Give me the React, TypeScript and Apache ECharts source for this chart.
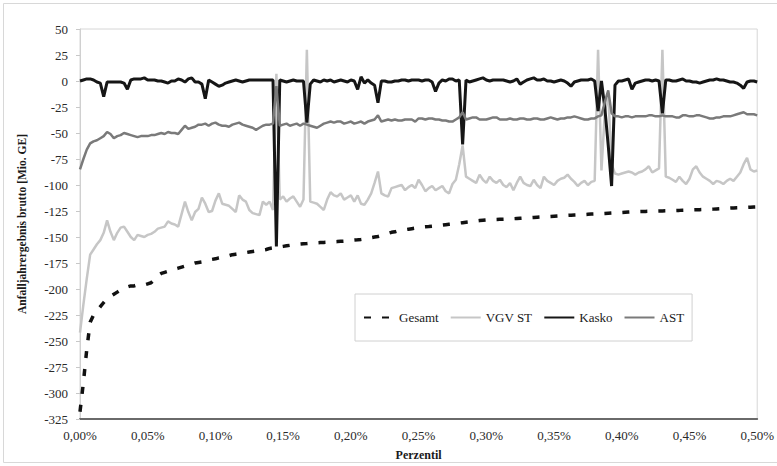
import React, { useEffect, useRef } from "react";
import * as echarts from "echarts";

// Percentile grid: 0,00% .. 0,50% in steps of 0,0025%
const percentiles: number[] = Array.from({ length: 201 }, (_, i) => i * 0.0025);

const xTicks = ["0,00%", "0,05%", "0,10%", "0,15%", "0,20%", "0,25%", "0,30%", "0,35%", "0,40%", "0,45%", "0,50%"];

const gesamt = [
  -318, -290, -258, -232, -225, -221, -217, -213, -209, -207,
  -205, -203, -201, -199, -198, -197, -197, -196, -196, -196,
  -195, -194, -191, -187, -185, -184, -183, -182, -181, -180,
  -179, -178, -177, -176, -175, -174.5, -174, -173, -172, -171.5,
  -171, -170, -169.5, -168.5, -168, -167, -166.5, -166, -165, -165,
  -164.5, -164, -163.5, -163, -162.5, -162, -161, -160.5, -160, -159.5,
  -159, -158.5, -158, -157.5, -157, -156.8, -156.5, -156.3, -156, -155.8,
  -155.6, -155.4, -155.2, -155, -154.8, -154.6, -154.4, -154.2, -154, -153.6,
  -153.2, -153, -152.7, -152.3, -151.8, -151.2, -150.6, -150, -149.5, -148.5,
  -147.5, -146.5, -145.5, -145, -144, -143.5, -143, -142.5, -142, -141.5,
  -141, -140.5, -140.2, -140, -139.7, -139.4, -139, -138.6, -138.2, -137.8,
  -137.5, -137, -136.6, -136.2, -135.8, -135.4, -135, -134.6, -134.2, -133.9,
  -133.6, -133.4, -133.2, -133.1, -133, -132.9, -132.8, -132.6, -132.4, -132.2,
  -132, -131.8, -131.6, -131.4, -131.2, -131, -130.8, -130.6, -130.4, -130.2,
  -130, -129.8, -129.6, -129.4, -129.2, -129, -128.9, -128.8, -128.6, -128.4,
  -128.2, -128, -127.9, -127.8, -127.6, -127.4, -127.2, -127, -126.8, -126.6,
  -126.4, -126.2, -126, -125.8, -125.7, -125.6, -125.5, -125.4, -125.3, -125.2,
  -125.1, -125, -124.9, -124.8, -124.7, -124.6, -124.5, -124.4, -124.2, -124.1,
  -124, -123.9, -123.8, -123.7, -123.6, -123.5, -123.4, -123.2, -123, -122.8,
  -122.6, -122.4, -122.2, -122, -121.8, -121.7, -121.6, -121.5, -121.3, -121.1,
  -121,
];

const vgvSt = [
  -242, -215, -190, -167, -162, -157, -153, -146, -134, -145,
  -153, -146, -141, -140, -145, -150, -153, -148, -149, -150,
  -148, -147, -145, -142, -141, -140, -135, -137, -138, -140,
  -128, -116, -126, -134, -126, -123, -112, -118, -126, -125,
  -115, -108, -118, -119, -120, -123, -126, -110, -114, -116,
  -124, -127, -128, -129, -116, -119, -116, -124, 7, -114,
  -111, -116, -113, -111, -116, -121, -114, 30, -116, -117,
  -118, -121, -124, -114, -107, -110, -111, -108, -114, -112,
  -110, -116, -110, -118, -119, -114, -108, -98, -87, -108,
  -110, -111, -103, -102, -101, -100, -105, -102, -100, -103,
  -95, -100, -106, -103, -101, -105, -103, -101, -106, -108,
  -99, -95, -80, -62, -92, -94, -96, -98, -90, -95,
  -98, -92, -96, -98, -95, -100, -102, -98, -105, -98,
  -92, -98, -100, -101, -95, -100, -103, -92, -96, -98,
  -100, -96, -94, -93, -90, -94, -97, -101, -98, -96,
  -100, -97, -96, 30, -86, -30, -12, -80, -89, -90,
  -89, -88, -87, -88, -90, -88, -87, -85, -82, -88,
  -86, -84, 30, -92, -93, -95, -97, -92, -96, -99,
  -94, -85, -82, -88, -92, -94, -96, -99, -96, -97,
  -99, -96, -94, -96, -92, -88, -80, -74, -85, -87,
  -86,
];

const kasko = [
  0, 1, 2, 2, 1, -1, -2, -15, -1, -1,
  -1, -1, -1, -2, -8, 1, 2, 2, 2, 3,
  1, 1, 1, 0, 0, -1, -2, 0, 0, 2,
  1, -1, 2, 3, -1, -1, -3, -17, 1, -1,
  -3, -5, -4, -2, -1, 0, 1, 0, -1, 0,
  1, 1, 1, 1, 1, 1, 1, 1, -159, 1,
  0, -1, 0, 1, 0, 0, 0, -40, -3, 1,
  0, -1, 1, 0, 1, -1, 0, 1, 0, -1,
  1, 0, -8, 4, -2, 1, -2, -4, -21, 0,
  0, -1, -1, 0, 0, 1, 1, 0, 1, 1,
  1, 0, 1, 1, -1, -10, -2, 1, 0, 2,
  2, 0, 1, -61, 1, -1, 0, 1, 2, 3,
  1, 0, 1, 1, 1, 1, 0, -1, 0, 2,
  -3, -1, 1, 2, 3, 1, 1, 2, 0, 0,
  -1, 0, 1, 0, -2, -5, -1, 0, 1, 1,
  1, 2, 0, -29, 0, -26, -62, -101, -4, 0,
  0, 1, 2, -8, -2, -1, 0, 1, 1, 0,
  1, 0, -31, 1, 1, 0, 0, 1, 2, 0,
  0, -1, -1, -2, -1, 0, 1, 1, 2, 1,
  1, 0, -1, -1, -2, -4, -7, -1, 0, 0,
  -1,
];

const ast = [
  -85, -75, -66, -60, -58, -57, -55, -53, -49, -51,
  -55, -53, -52, -50, -51, -52, -53, -54, -53, -53,
  -53, -52, -52, -51, -50, -51, -49, -50, -50, -51,
  -47, -43, -46, -45, -44, -42, -42, -41, -43, -41,
  -40, -42, -43, -43, -44, -42, -41, -40, -42, -43,
  -44, -45, -47, -45, -43, -42, -42, -41, -5, -43,
  -42, -41, -43, -42, -41, -43, -41, -42, -43, -44,
  -45, -43, -41, -40, -39, -40, -39, -39, -41, -40,
  -39, -41, -40, -39, -41, -39, -38, -37, -33, -39,
  -38, -37, -38, -37, -38, -38, -37, -37, -37, -39,
  -36, -36, -37, -36, -36, -37, -37, -38, -38, -39,
  -39, -37, -35, -30, -37, -36, -35, -35, -37, -37,
  -37, -36, -35, -35, -37, -37, -37, -36, -37, -37,
  -36, -36, -37, -37, -36, -36, -37, -37, -36, -35,
  -36, -37, -36, -36, -35, -35, -34, -35, -36, -37,
  -37, -36, -36, -34, -33, -20, -9, -31, -34, -34,
  -35, -34, -34, -35, -34, -34, -34, -34, -33, -33,
  -34, -34, -33, -34, -34, -34, -35, -35, -33, -33,
  -34, -34, -33, -33, -34, -35, -36, -36, -35, -35,
  -34, -34, -34, -33, -32, -31, -30, -32, -32, -32,
  -33,
];

const FONT = "Liberation Serif, Times New Roman, serif";

function pairs(values: number[]) {
  return values.map((v, i) => [percentiles[i], v]);
}

export default function App() {
  const ref = useRef<HTMLDivElement>(null);
  useEffect(() => {
    if (!ref.current) return;
    const chart = echarts.init(ref.current, undefined, { renderer: "svg" });
    chart.setOption({
      animation: false,
      backgroundColor: "#ffffff",
      textStyle: { fontFamily: FONT, color: "#222" },
      grid: {
        left: 80,
        right: 8,
        top: 29,
        bottom: 46,
        show: true,
        borderColor: "#d6d6d6",
        borderWidth: 1,
      },
      graphic: [
        {
          type: "rect",
          shape: { x: 3.5, y: 3.5, width: 790, height: 459 },
          style: { fill: "none", stroke: "#d8d8d8", lineWidth: 1 },
          silent: true,
        },
      ],
      legend: {
        left: 355,
        top: 294,
        orient: "horizontal",
        padding: [17, 8, 17, 8],
        itemGap: 11,
        itemWidth: 30,
        itemHeight: 14,
        borderColor: "#d0d0d0",
        borderWidth: 1,
        itemStyle: { opacity: 0 },
        textStyle: { fontFamily: FONT, fontSize: 13, color: "#1a1a1a" },
        data: ["Gesamt", "VGV ST", "Kasko", "AST"],
      },
      xAxis: {
        type: "value",
        min: 0,
        max: 0.5,
        interval: 0.05,
        name: "Perzentil",
        nameLocation: "middle",
        nameGap: 30,
        nameTextStyle: { fontFamily: FONT, fontSize: 12, fontWeight: "bold", color: "#1a1a1a" },
        axisLine: { onZero: false, lineStyle: { color: "#6a6a6a", width: 2 } },
        axisTick: { show: false },
        splitLine: { show: false },
        axisLabel: {
          fontFamily: FONT,
          fontSize: 13,
          color: "#2a2a2a",
          margin: 10,
          formatter: (v: number) => xTicks[Math.round(v / 0.05)] ?? "",
        },
      },
      yAxis: {
        type: "value",
        min: -325,
        max: 50,
        interval: 25,
        name: "Anfalljahrergebnis brutto [Mio. GE]",
        nameLocation: "middle",
        nameGap: 52,
        nameTextStyle: { fontFamily: FONT, fontSize: 11.5, fontWeight: "bold", color: "#1a1a1a" },
        axisLine: { show: true, lineStyle: { color: "#d0d0d0", width: 1 } },
        axisTick: { show: true, length: 4, lineStyle: { color: "#c8c8c8" } },
        splitLine: { show: false },
        axisLabel: { fontFamily: FONT, fontSize: 13, color: "#2a2a2a", margin: 12 },
      },
      series: [
        {
          name: "Gesamt",
          type: "line",
          symbol: "none",
          data: pairs(gesamt),
          lineStyle: { color: "#111111", width: 3.5, type: [7, 11] },
          itemStyle: { color: "#111111" },
        },
        {
          name: "VGV ST",
          type: "line",
          symbol: "none",
          data: pairs(vgvSt),
          lineStyle: { color: "#c6c6c6", width: 2.5 },
          itemStyle: { color: "#c6c6c6" },
        },
        {
          name: "Kasko",
          type: "line",
          symbol: "none",
          data: pairs(kasko),
          lineStyle: { color: "#161616", width: 3 },
          itemStyle: { color: "#161616" },
        },
        {
          name: "AST",
          type: "line",
          symbol: "none",
          data: pairs(ast),
          lineStyle: { color: "#7a7a7a", width: 2.5 },
          itemStyle: { color: "#7a7a7a" },
        },
      ],
    });
    return () => chart.dispose();
  }, []);
  return (
    <div
      ref={ref}
      style={{ position: "absolute", left: 0, top: 0, width: 777, height: 466 }}
    />
  );
}
